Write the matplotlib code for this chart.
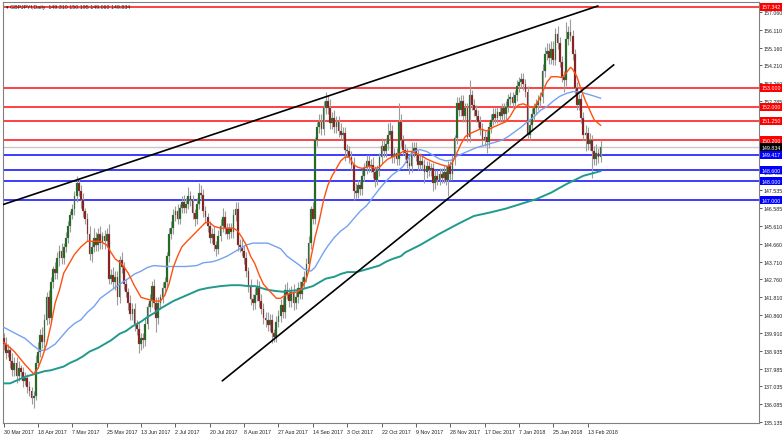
import matplotlib
matplotlib.use('Agg')
import matplotlib.pyplot as plt
import matplotlib.transforms as mtransforms

plt.rcParams['font.family'] = ['Liberation Sans', 'DejaVu Sans']

# ---------------- data ----------------
first_open = 139.6
closes = [
    139.3, 138.8, 139.0, 138.4, 137.9, 138.3, 137.6, 138.0, 137.8, 137.3,
    137.5, 137.0, 136.8, 136.4, 136.5, 138.3, 138.9, 139.8, 139.4, 140.6,
    141.8, 140.7, 142.6, 143.3, 143.1, 143.9, 144.3, 143.9, 144.5, 145.0,
    145.6, 146.2, 146.5, 147.2, 147.9, 147.5, 147.0, 146.4, 146.0, 145.2,
    144.1, 144.5, 145.0, 144.6, 145.2, 144.7, 145.1, 144.8, 145.2, 142.8,
    143.0, 142.6, 142.9, 141.8, 143.8, 143.4, 142.5, 142.1, 141.5, 140.9,
    141.2, 140.4, 140.1, 139.3, 139.6, 139.5, 140.4, 141.3, 141.6, 142.4,
    141.5, 140.7, 141.5, 141.8, 142.3, 142.6, 144.0, 145.2, 145.5, 146.2,
    146.4, 146.0, 146.6, 146.9, 146.6, 146.8, 147.2, 147.0, 146.3, 146.0,
    146.8, 147.4, 147.3, 146.4, 146.1, 145.6, 145.0, 145.2, 144.6, 144.4,
    145.1, 145.6, 146.1, 145.5, 145.2, 145.5, 145.3, 146.2, 146.5, 144.6,
    144.5, 144.3, 143.9, 143.2, 142.4, 141.7, 141.5, 141.9, 142.4, 141.6,
    141.2, 140.7, 140.6, 140.3, 140.6, 139.9, 139.7, 140.5, 140.8, 141.4,
    141.0, 142.2, 142.0, 141.6, 142.1, 141.5, 141.8, 142.3, 142.0, 142.6,
    142.9, 143.6, 144.7, 146.5, 146.0, 150.2, 150.9, 151.2, 150.8, 151.9,
    152.3, 151.9, 151.1, 151.4, 150.9, 151.2, 150.7, 150.5, 150.6, 149.7,
    149.6, 149.3, 148.9, 147.5, 147.4, 147.8, 147.6, 148.3, 148.7, 149.1,
    148.8, 148.9, 148.5, 148.1, 148.6, 149.3, 149.9, 149.6, 150.0, 150.5,
    150.7, 149.3, 149.5, 149.2, 151.2, 150.2, 149.7, 149.5, 149.0, 148.8,
    149.6, 149.8, 149.4, 148.9, 149.1, 148.9, 148.5, 148.8, 148.6, 148.7,
    147.9, 148.3, 148.1, 148.4, 148.2, 148.5, 148.1, 148.8, 148.4, 149.2,
    150.3, 152.2, 151.8, 152.3, 151.5, 151.9, 150.4, 152.6, 152.1, 151.8,
    151.5, 151.2, 150.8, 150.2, 150.4, 150.1, 150.9, 151.3, 151.6, 151.4,
    151.7, 151.5, 151.9, 151.6, 152.0, 152.4, 152.5, 152.2, 152.6, 153.1,
    153.3, 153.5, 153.2, 152.8, 150.5, 151.0, 151.6, 151.9, 152.1, 152.3,
    152.5, 153.9, 154.8, 155.0, 154.6, 155.1, 154.5, 155.9, 155.4, 154.4,
    153.6, 153.4, 155.6, 156.0, 155.8, 154.8, 153.0, 152.1, 152.4, 151.4,
    150.5, 150.6, 150.0, 150.2, 149.6, 149.2, 149.5, 149.31, 149.834,
]
up_wick = [
    0.3, 0.4, 0.3, 0.2, 0.4, 0.3, 0.3, 0.4, 0.2, 0.3,
    0.3, 0.2, 0.3, 0.2, 0.3, 0.4, 0.5, 0.3, 0.4, 0.3,
    0.3, 0.4, 0.3, 0.2, 0.4, 0.3, 0.3, 0.4, 0.2, 0.3,
    0.3, 0.2, 0.3, 0.3, 0.4, 0.3, 0.3, 0.4, 0.2, 0.3,
    0.4, 0.3, 0.5, 0.3, 0.3, 0.4, 0.2, 0.3, 0.3, 0.5,
    0.3, 0.4, 0.3, 0.3, 0.2, 0.4, 0.3, 0.3, 0.2, 0.4,
    0.3, 0.3, 0.2, 0.4, 0.3, 0.3, 0.3, 0.2, 0.4, 0.3,
    0.4, 0.3, 0.3, 0.2, 0.3, 0.3, 0.2, 0.3, 0.4, 0.3,
    0.3, 0.4, 0.2, 0.3, 0.4, 0.3, 0.5, 0.3, 0.3, 0.2,
    0.3, 0.5, 0.4, 0.3, 0.3, 0.2, 0.3, 0.3, 0.4, 0.2,
    0.3, 0.4, 0.5, 0.3, 0.3, 0.3, 0.3, 0.3, 0.4, 0.4,
    0.3, 0.4, 0.3, 0.3, 0.2, 0.4, 0.3, 0.4, 0.4, 0.3,
    0.4, 0.3, 0.3, 0.4, 0.3, 0.3, 0.2, 0.3, 0.3, 0.3,
    0.4, 0.3, 0.4, 0.3, 0.3, 0.4, 0.3, 0.3, 0.4, 0.3,
    0.3, 0.3, 0.4, 0.2, 0.4, 0.2, 0.3, 0.4, 0.4, 0.4,
    0.5, 0.3, 0.5, 0.3, 0.4, 0.3, 0.3, 0.4, 0.3, 0.3,
    0.3, 0.3, 0.3, 0.4, 0.4, 0.3, 0.3, 0.3, 0.3, 0.3,
    0.3, 0.3, 0.4, 0.3, 0.3, 0.2, 0.4, 0.3, 0.3, 0.6,
    0.5, 0.3, 0.3, 0.3, 1.0, 0.4, 0.3, 0.3, 0.3, 0.3,
    0.5, 0.3, 0.3, 0.3, 0.4, 0.3, 0.3, 0.3, 0.3, 0.3,
    0.3, 0.3, 0.3, 0.3, 0.3, 0.3, 0.3, 0.3, 0.3, 0.2,
    0.2, 0.3, 0.3, 0.3, 0.3, 0.3, 0.3, 0.8, 0.3, 0.3,
    0.3, 0.3, 0.3, 0.3, 0.3, 0.3, 0.3, 0.3, 0.3, 0.3,
    0.3, 0.3, 0.3, 0.3, 0.3, 0.3, 0.3, 0.3, 0.3, 0.3,
    0.3, 0.3, 0.3, 0.3, 0.3, 0.3, 0.3, 0.3, 0.3, 0.3,
    0.3, 0.4, 0.4, 0.4, 0.4, 0.4, 0.4, 0.3, 0.4, 0.3,
    0.3, 0.3, 0.9, 0.3, 0.7, 0.3, 0.3, 0.3, 0.3, 0.3,
    0.3, 0.4, 0.3, 0.4, 0.3, 0.3, 0.5, 0.3, 0.361,
]
dn_wick = [
    0.3, 0.3, 0.2, 0.4, 0.3, 0.3, 0.4, 0.3, 0.3, 0.3,
    0.2, 0.3, 0.3, 0.3, 0.5, 0.2, 0.3, 0.3, 0.3, 0.4,
    0.3, 0.3, 0.2, 0.3, 0.3, 0.3, 0.4, 0.3, 0.3, 0.3,
    0.3, 0.3, 0.2, 0.3, 0.3, 0.3, 0.4, 0.3, 0.3, 0.4,
    0.3, 0.4, 0.3, 0.3, 0.3, 0.3, 0.3, 0.4, 0.3, 0.3,
    0.3, 0.3, 0.4, 0.4, 0.3, 0.3, 0.3, 0.3, 0.4, 0.3,
    0.3, 0.4, 0.3, 0.5, 0.3, 0.4, 0.3, 0.3, 0.3, 0.3,
    0.3, 0.75, 0.3, 0.3, 0.3, 0.3, 0.3, 0.3, 0.3, 0.3,
    0.3, 0.3, 0.3, 0.3, 0.3, 0.3, 0.3, 0.3, 0.3, 0.4,
    0.3, 0.3, 0.3, 0.3, 0.3, 0.3, 0.3, 0.3, 0.3, 0.4,
    0.3, 0.3, 0.3, 0.3, 0.3, 0.3, 0.3, 0.3, 0.3, 0.3,
    0.3, 0.3, 0.3, 0.3, 0.3, 0.3, 0.4, 0.3, 0.3, 0.3,
    0.3, 0.3, 0.4, 0.3, 0.3, 0.55, 0.3, 0.3, 0.3, 0.3,
    0.3, 0.3, 0.3, 0.3, 0.3, 0.4, 0.3, 0.3, 0.3, 0.3,
    0.3, 0.3, 0.3, 0.3, 0.3, 0.3, 0.3, 0.3, 0.3, 0.3,
    0.3, 0.3, 0.3, 0.3, 0.3, 0.3, 0.3, 0.3, 0.3, 0.6,
    0.3, 0.3, 0.3, 0.5, 0.3, 0.3, 0.3, 0.3, 0.3, 0.3,
    0.3, 0.3, 0.3, 0.4, 0.3, 0.3, 0.3, 0.3, 0.3, 0.3,
    0.3, 0.3, 0.3, 0.3, 0.3, 0.3, 0.3, 0.3, 0.3, 0.4,
    0.3, 0.3, 0.3, 0.3, 0.3, 0.3, 0.6, 0.3, 0.3, 0.3,
    0.4, 0.3, 0.3, 0.3, 0.3, 0.3, 0.3, 0.9, 0.3, 0.3,
    0.3, 0.3, 0.3, 0.3, 0.3, 0.3, 0.3, 0.3, 0.3, 0.3,
    0.3, 0.3, 0.3, 0.3, 0.3, 0.6, 0.3, 0.3, 0.3, 0.3,
    0.3, 0.3, 0.3, 0.3, 0.3, 0.3, 0.3, 0.3, 0.3, 0.3,
    0.3, 0.3, 0.3, 0.3, 0.2, 0.3, 0.3, 0.3, 0.3, 0.3,
    0.3, 0.3, 0.3, 0.3, 0.3, 0.3, 0.3, 0.3, 0.3, 0.3,
    0.3, 0.6, 0.3, 0.3, 0.3, 0.3, 0.3, 0.3, 0.3, 0.3,
    0.3, 0.9, 0.3, 0.3, 1.4, 0.3, 0.3, 0.3, 0.25,
]

orange_bars = [0, 5, 10, 14, 16, 18, 20, 22, 24, 26, 28, 30, 33, 36, 39, 45, 48, 50, 52, 55,
               58, 61, 64, 67, 70, 73, 75, 77, 79, 81, 83, 85, 88, 91, 94, 96, 98, 101, 107, 109,
               111, 113, 115, 117, 119, 121, 123, 125, 127, 129, 131, 133, 137, 139, 141, 142, 143, 145, 147, 149,
               151, 153, 155, 157, 159, 161, 163, 165, 167, 170, 173, 175, 177, 179, 182, 184, 186, 190, 193, 195,
               197, 199, 201, 205, 207, 209, 211, 213, 215, 217, 220, 222, 225, 228, 230, 232, 234, 236, 238, 240,
               242, 245, 247, 249, 251, 253, 255, 258, 260, 262, 264, 265, 267, 269, 271, 273, 275, 278]
orange_vals = [139.4, 138.9, 138.2, 137.7, 138.0, 138.6, 139.3, 140.3, 141.5, 142.2, 143.1, 143.5, 144.1, 144.5, 144.8, 144.8, 144.6, 144.2, 143.85, 143.6,
               143.1, 142.4, 141.8, 141.7, 141.6, 141.6, 141.9, 142.5, 143.4, 144.0, 144.5, 144.75, 145.1, 145.45, 145.8, 145.8, 145.6, 145.5, 145.5, 145.35,
               145.0, 144.6, 144.0, 143.6, 143.0, 142.5, 142.25, 142.0, 141.75, 141.75, 141.9, 142.0, 142.1, 142.3, 142.8, 143.2, 143.85, 145.0, 145.9, 147.0,
               147.8, 148.3, 148.7, 149.1, 149.3, 149.3, 148.9, 148.75, 148.7, 148.8, 148.7, 148.75, 149.0, 149.2, 149.35, 149.45, 149.6, 149.6, 149.45, 149.35,
               149.2, 149.1, 149.0, 148.85, 148.8, 149.0, 149.5, 150.0, 150.4, 150.55, 150.7, 150.8, 150.7, 150.9, 151.0, 151.1, 151.2, 151.5, 151.9, 152.1,
               152.15, 152.0, 151.95, 152.3, 152.8, 153.3, 153.6, 153.6, 153.55, 153.8, 154.1, 154.0, 153.6, 152.9, 152.3, 151.8, 151.3, 151.0]

blue_bars = [0, 5, 10, 14, 17, 20, 24, 27, 30, 33, 36, 39, 42, 45, 48, 51, 54, 58, 61, 64,
             67, 70, 75, 80, 85, 90, 93, 97, 100, 104, 107, 110, 113, 116, 120, 123, 126, 129, 132, 135,
             138, 140, 143, 145, 147, 149, 151, 154, 157, 160, 163, 166, 169, 172, 175, 178, 181, 184, 186, 188,
             190, 192, 194, 197, 200, 203, 206, 209, 211, 214, 217, 220, 223, 226, 229, 232, 235, 238, 241, 244,
             247, 250, 253, 256, 259, 262, 265, 268, 271, 274, 278]
blue_vals = [140.2, 139.9, 139.6, 139.2, 138.95, 139.0, 139.3, 139.7, 140.1, 140.4, 140.6, 141.0, 141.3, 141.75, 142.0, 142.25, 142.5, 142.8, 143.05, 143.2,
             143.4, 143.5, 143.45, 143.45, 143.45, 143.5, 143.65, 143.7, 143.8, 144.0, 144.2, 144.4, 144.6, 144.7, 144.7, 144.7, 144.55, 144.4, 144.0, 143.75,
             143.5, 143.3, 143.2, 143.4, 143.8, 144.2, 144.55, 145.0, 145.35, 145.6, 146.0, 146.4, 146.7, 147.15, 147.6, 148.0, 148.35, 148.6, 148.8, 149.15,
             149.5, 149.65, 149.7, 149.6, 149.4, 149.2, 149.1, 149.15, 149.35, 149.5, 149.65, 149.8, 149.9, 150.0, 150.1, 150.2, 150.4, 150.65, 150.9, 151.2,
             151.45, 151.8, 152.0, 152.3, 152.55, 152.7, 152.8, 152.8, 152.7, 152.6, 152.45]

green_bars = [0, 3, 7, 10, 13, 16, 19, 22, 25, 28, 31, 34, 37, 40, 44, 47, 50, 54, 57, 60,
              64, 67, 70, 73, 76, 79, 82, 85, 88, 91, 95, 98, 101, 106, 110, 114, 117, 120, 123, 126,
              130, 134, 138, 141, 144, 147, 150, 154, 157, 160, 164, 166, 169, 172, 175, 178, 181, 185, 187, 194,
              203, 212, 219, 227, 234, 241, 248, 255, 262, 270, 278]
green_vals = [137.2, 137.2, 137.4, 137.55, 137.65, 137.75, 137.85, 137.9, 138.0, 138.1, 138.3, 138.45, 138.65, 138.9, 139.1, 139.3, 139.5, 139.85, 140.0, 140.25,
              140.5, 140.75, 140.95, 141.2, 141.4, 141.6, 141.75, 141.9, 142.05, 142.2, 142.3, 142.35, 142.4, 142.45, 142.45, 142.4, 142.4, 142.3, 142.2, 142.15,
              142.1, 142.15, 142.2, 142.3, 142.4, 142.6, 142.8, 142.9, 143.05, 143.15, 143.15, 143.2, 143.3, 143.4, 143.5, 143.7, 143.85, 144.0, 144.2, 144.6,
              145.2, 145.75, 146.15, 146.35, 146.55, 146.8, 147.05, 147.4, 147.85, 148.3, 148.55]

date_tick_bars = [0, 16, 32, 48, 64, 80, 96, 112, 128, 144, 160, 176, 192, 208, 224, 240, 256, 272]
date_labels = ['30 Mar 2017', '18 Apr 2017', '7 May 2017', '25 May 2017', '13 Jun 2017', '2 Jul 2017',
               '20 Jul 2017', '8 Aug 2017', '27 Aug 2017', '14 Sep 2017', '3 Oct 2017', '22 Oct 2017',
               '9 Nov 2017', '28 Nov 2017', '17 Dec 2017', '7 Jan 2018', '25 Jan 2018', '13 Feb 2018']
price_ticks = [157.060, 156.110, 155.160, 154.210, 153.260, 152.285, 151.335, 150.385, 149.435,
               148.485, 147.535, 146.585, 145.610, 144.660, 143.710, 142.760, 141.810, 140.860,
               139.910, 138.935, 137.985, 137.035, 136.085, 135.135]
resistance_levels = [157.342, 153.000, 152.000, 151.250, 150.200]
support_levels = [149.417, 148.600, 148.000, 147.000]
last_price = 149.834
upper_trend_x = [-1.4, 276.7]
upper_trend_y = [146.72, 157.38]
lower_trend_x = [101.9, 284.1]
lower_trend_y = [137.34, 154.23]
header = 'GBPJPYf,Daily  149.310 150.195 149.060 149.834'

# ---------------- figure ----------------
W, H = 782, 435
fig = plt.figure(figsize=(W / 100, H / 100), dpi=100)
ax = fig.add_axes([3 / W, 11 / H, 756 / W, 421 / H])
ax.set_xlim(-0.3, 351.8)
ax.set_ylim(135.08, 157.595)

n = min(len(closes), len(up_wick), len(dn_wick))
opens = [first_open] + closes[:n - 1]
up_col, dn_col, wick_col = '#176917', '#8e1414', '#9c9c9c'
for i in range(n):
    o, c = opens[i], closes[i]
    hi = max(o, c) + up_wick[i]
    lo = min(o, c) - dn_wick[i]
    ax.vlines(i, lo, hi, color=wick_col, lw=0.8, zorder=2)
    bot = min(o, c)
    h = max(abs(c - o), 0.04)
    ax.bar(i, h, bottom=bot, width=0.82, color=up_col if c >= o else dn_col,
           edgecolor='#7a7a7a', linewidth=0.2, zorder=3)

# moving averages
ax.plot(green_bars, green_vals, color='#1f9a8c', lw=1.4, zorder=4)
ax.plot(blue_bars, blue_vals, color='#74a2f0', lw=1.0, zorder=4)
ax.plot(orange_bars, orange_vals, color='#ff5010', lw=1.0, zorder=4)

# horizontal levels
for lv in resistance_levels:
    ax.axhline(lv, color='#ff2020', lw=1.2, zorder=1.5)
for lv in support_levels:
    ax.axhline(lv, color='#1a1aff', lw=1.2, zorder=1.5)
ax.axhline(last_price, color='#c8c8c8', lw=1.0, zorder=1.4)

# trend lines
ax.plot(upper_trend_x, upper_trend_y, color='black', lw=1.2, zorder=5)
ax.plot(lower_trend_x, lower_trend_y, color='black', lw=1.2, zorder=5)

# axes styling
for s in ax.spines.values():
    s.set_color('#808080')
    s.set_linewidth(0.8)
ax.yaxis.tick_right()
ax.set_yticks(price_ticks)
ax.set_yticklabels(['%.3f' % p for p in price_ticks])
ax.tick_params(axis='y', right=True, left=False, labelright=True, labelleft=False,
               length=2, width=0.5, pad=1, labelsize=3.8, colors='#202020')
ax.set_xticks(date_tick_bars)
ax.set_xticklabels(date_labels, ha='left')
ax.tick_params(axis='x', length=3, width=0.5, pad=1, labelsize=3.8, colors='#202020')

# right-side level labels (drawn over the price scale, as in the terminal)
trans = mtransforms.blended_transform_factory(ax.transAxes, ax.transData)
def level_label(val, fc):
    ax.text(1.004, val, '%.3f' % val, transform=trans, fontsize=3.8, color='white',
            ha='left', va='center', clip_on=False, zorder=10,
            bbox=dict(boxstyle='square,pad=0.3', fc=fc, ec='none'))
for lv in resistance_levels:
    level_label(lv, '#ff0000')
for lv in support_levels:
    level_label(lv, '#0000ff')
level_label(last_price, '#000000')

# header
ax.text(0.004, 0.996, '\u25be ' + header, transform=ax.transAxes, fontsize=3.8,
        color='#202020', ha='left', va='top', zorder=11)

fig.savefig('out.png', dpi=100, facecolor='white')
